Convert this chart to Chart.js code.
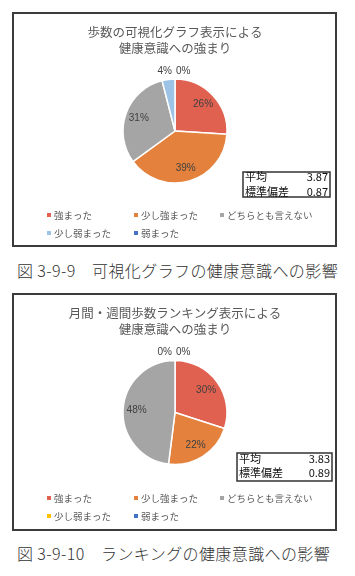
<!DOCTYPE html>
<html><head><meta charset="utf-8">
<script src="https://cdn.jsdelivr.net/npm/chart.js@4"></script>
<style>
html,body{margin:0;padding:0;background:#fff;width:355px;height:576px;overflow:hidden;}
.box{position:absolute;left:12px;width:321px;border:2px solid #3c3c3c;background:#fff;}
#box1{top:12px;height:231px;}
#box2{top:293px;height:234px;}
.box canvas{display:block;}
.cap{position:absolute;left:17px;font-family:"Noto Sans CJK JP";font-weight:300;font-size:16px;color:#333;white-space:nowrap;line-height:20px;letter-spacing:0.4px;}
#cap1{top:260px;}
#cap2{top:543px;}
</style>
</head><body>
<div class="box" id="box1"><canvas id="c1" width="321" height="231"></canvas></div>
<div class="cap" id="cap1">図 3-9-9　可視化グラフの健康意識への影響</div>
<div class="box" id="box2"><canvas id="c2" width="321" height="234"></canvas></div>
<div class="cap" id="cap2">図 3-9-10　ランキングの健康意識への影響</div>
<script>
const categories = ['強まった','少し強まった','どちらとも言えない','少し弱まった','弱まった'];
const graphValues = [26, 39, 31, 4, 0];
const rankingValues = [30, 22, 48, 0, 0];
const statLabels = ['平均','標準偏差'];
const graphStats = ['3.87','0.87'];
const rankingStats = ['3.83','0.89'];
const graphTitle = ['歩数の可視化グラフ表示による','健康意識への強まり'];
const rankingTitle = ['月間・週間歩数ランキング表示による','健康意識への強まり'];

const graphColors = ['#E0614F','#E3813D','#A5A5A5','#9DC3E6','#4472C4'];
const rankingColors = ['#E0614F','#E3813D','#A5A5A5','#FFC000','#4472C4'];

const JP = '"Noto Sans CJK JP", sans-serif';

const sliceLabels = {
  id: 'sliceLabels',
  afterDatasetsDraw(chart, args, opts) {
    const ctx = chart.ctx;
    const meta = chart.getDatasetMeta(0);
    const data = chart.data.datasets[0].data;
    const n = data.length;
    ctx.save();
    ctx.font = '10px "Liberation Sans", sans-serif';
    ctx.fillStyle = '#404040';
    ctx.textBaseline = 'middle';
    meta.data.forEach((arc, i) => {
      const p = arc.getProps(['x','y','startAngle','endAngle','outerRadius'], true);
      const mid = (p.startAngle + p.endAngle) / 2;
      const txt = data[i] + '%';
      if (data[i] >= 5) {
        const rr = p.outerRadius * opts.insideRatio;
        ctx.textAlign = 'center';
        ctx.fillText(txt, p.x + Math.cos(mid) * rr, p.y + Math.sin(mid) * rr);
      } else {
        const rr = p.outerRadius + 8;
        let px = p.x + Math.cos(mid) * rr;
        const py = p.y + Math.sin(mid) * rr;
        if (i === n - 1) { ctx.textAlign = 'left'; px = Math.max(px, p.x + 1); }
        else { ctx.textAlign = 'right'; px = Math.min(px + 6, p.x - 3); }
        ctx.fillText(txt, px, py);
      }
    });
    ctx.restore();
  }
};

const gridLegend = {
  id: 'gridLegend',
  afterDraw(chart, args, opts) {
    const ctx = chart.ctx;
    const labels = chart.data.labels;
    const cols = chart.data.datasets[0].backgroundColor;
    ctx.save();
    ctx.font = '9.5px ' + JP;
    ctx.textBaseline = 'middle';
    ctx.textAlign = 'left';
    labels.forEach((lab, i) => {
      const x = opts.xs[i % 3], y = opts.ys[Math.floor(i / 3)];
      ctx.fillStyle = cols[i];
      ctx.fillRect(x - 2, y - 2, 4, 4);
      ctx.fillStyle = '#595959';
      ctx.fillText(lab, x + 5, y);
    });
    ctx.restore();
  }
};

const statBox = {
  id: 'statBox',
  afterDraw(chart, args, opts) {
    const ctx = chart.ctx;
    const r = opts.rect;
    ctx.save();
    ctx.strokeStyle = '#333';
    ctx.lineWidth = 1.5;
    ctx.strokeRect(r[0], r[1], r[2] - r[0], r[3] - r[1]);
    ctx.font = '11px ' + JP;
    ctx.fillStyle = '#111';
    ctx.textBaseline = 'middle';
    opts.labels.forEach((lab, i) => {
      const y = opts.rows[i];
      ctx.textAlign = 'left';
      ctx.fillText(lab, r[0] + 2, y);
      ctx.textAlign = 'right';
      ctx.fillText(opts.values[i], r[2] - 2, y);
    });
    ctx.restore();
  }
};

function makePie(id, title, values, colors, cfg) {
  return new Chart(document.getElementById(id), {
    type: 'pie',
    data: {
      labels: categories,
      datasets: [{ data: values, backgroundColor: colors, borderColor: '#ffffff', borderWidth: 1.5 }]
    },
    options: {
      responsive: false,
      animation: false,
      layout: { padding: { left: 1, right: 0, top: 0, bottom: cfg.bottom } },
      plugins: {
        legend: { display: false },
        tooltip: { enabled: false },
        title: {
          display: true, text: title, color: '#595959',
          font: { family: JP, size: 12.5, weight: 'normal', lineHeight: 16 / 12.5 },
          padding: { top: 10, bottom: cfg.titleBottom }
        },
        sliceLabels: { insideRatio: 0.74 },
        gridLegend: { xs: [35, 122, 208], ys: cfg.legendY },
        statBox: { rect: cfg.rect, rows: cfg.rows, labels: statLabels, values: cfg.stats }
      }
    },
    plugins: [sliceLabels, gridLegend, statBox]
  });
}

makePie('c1', graphTitle, graphValues, graphColors, {
  bottom: 61.25, titleBottom: 22.25, legendY: [201, 219],
  rect: [229, 158, 316, 183], rows: [162.7, 177.7], stats: graphStats
});
makePie('c2', rankingTitle, rankingValues, rankingColors, {
  bottom: 63.75, titleBottom: 22.75, legendY: [203, 221],
  rect: [223, 158, 318, 186], rows: [164.3, 178.3], stats: rankingStats
});
</script>
</body></html>
